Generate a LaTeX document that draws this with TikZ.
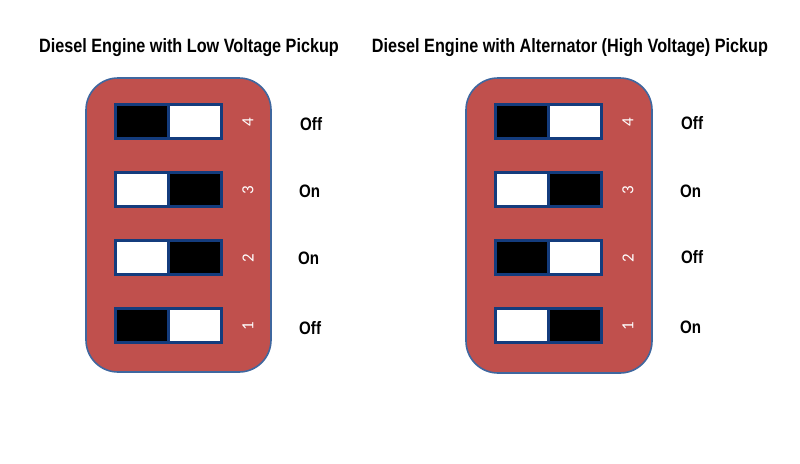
\documentclass[tikz,border=0pt]{standalone}
\usepackage{fontspec}
\setmainfont{Liberation Sans}[FakeStretch=0.84]
\newfontfamily\numfont{Carlito}
\definecolor{boardred}{HTML}{C0504D}
\definecolor{boardedge}{HTML}{3F679F}
\definecolor{swedge}{RGB}{20,60,125}
\tikzset{
  board/.style={draw=boardedge, line width=1.6pt, fill=boardred, rounded corners=32pt},
  half/.style={draw=swedge, line width=3pt, minimum width=53pt, minimum height=34pt, inner sep=0pt, outer sep=0pt},
  blk/.style={half, fill=black},
  wht/.style={half, fill=white},
  num/.style={text=white, font=\numfont\fontsize{17}{17}\selectfont, rotate=90, inner sep=0pt},
  state/.style={font=\bfseries\fontsize{18}{18}\selectfont, anchor=base west, inner sep=0pt},
  ttl/.style={font=\bfseries\fontsize{19.3}{19.3}\selectfont, anchor=base, inner sep=0pt}
}
\begin{document}
\begin{tikzpicture}[x=1pt,y=-1pt]
\useasboundingbox (0,0) rectangle (800,463);
\fill[white] (0,0) rectangle (800,463);
% titles
\node[ttl] (t1) at (189,52) {Diesel Engine with Low Voltage Pickup};
\node[ttl] (t2) at (570,52) {Diesel Engine with Alternator (High Voltage) Pickup};
% boards
\draw[board] (86,78) rectangle (271,372);
\draw[board] (466,78) rectangle (652,373);
% left switches
\node[blk] (a4l) at (141.5,121.5) {};
\node[wht] (a4r) at (194.5,121.5) {};
\node[wht] (a3l) at (141.5,189.5) {};
\node[blk] (a3r) at (194.5,189.5) {};
\node[wht] (a2l) at (141.5,257.5) {};
\node[blk] (a2r) at (194.5,257.5) {};
\node[blk] (a1l) at (141.5,325.5) {};
\node[wht] (a1r) at (194.5,325.5) {};
% right switches
\node[blk] (b4l) at (521.5,121.5) {};
\node[wht] (b4r) at (574.5,121.5) {};
\node[wht] (b3l) at (521.5,189.5) {};
\node[blk] (b3r) at (574.5,189.5) {};
\node[blk] (b2l) at (521.5,257.5) {};
\node[wht] (b2r) at (574.5,257.5) {};
\node[wht] (b1l) at (521.5,325.5) {};
\node[blk] (b1r) at (574.5,325.5) {};
% numbers
\node[num] (an4) at (248,122) {4};
\node[num] (an3) at (248,190) {3};
\node[num] (an2) at (248,258) {2};
\node[num] (an1) at (248,326) {1};
\node[num] (bn4) at (628,122) {4};
\node[num] (bn3) at (628,190) {3};
\node[num] (bn2) at (628,258) {2};
\node[num] (bn1) at (628,326) {1};
% states
\node[state] (as4) at (300,130) {Off};
\node[state] (as3) at (299,197) {On};
\node[state] (as2) at (298,264) {On};
\node[state] (as1) at (299,334) {Off};
\node[state] (bs4) at (681,129) {Off};
\node[state] (bs3) at (680,197) {On};
\node[state] (bs2) at (681,263) {Off};
\node[state] (bs1) at (680,333) {On};
\end{tikzpicture}
\end{document}
